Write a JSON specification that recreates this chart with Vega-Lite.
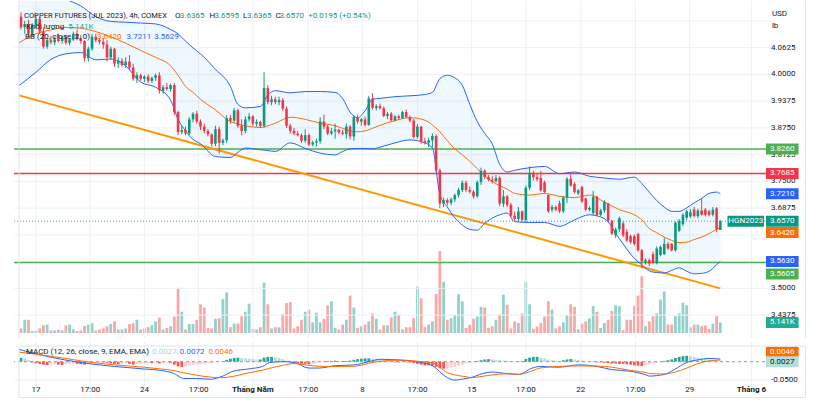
{
"$schema":"https://vega.github.io/schema/vega-lite/v6.json",
"padding":{"left":13,"top":0,"right":0,"bottom":0},
"background":"white",
"spacing":1,
"config":{"view":{"stroke":null},"font":"Roboto","axis":{"disable":true}},
"datasets":{
"candles":[
{"i":0,"o":4.135,"h":4.145,"l":4.105,"c":4.11,"v":2220,"d":0.01},
{"i":1,"o":4.11,"h":4.125,"l":4.095,"c":4.118,"v":6480,"d":0.008},
{"i":2,"o":4.118,"h":4.128,"l":4.09,"c":4.095,"v":6480,"d":0.005},
{"i":3,"o":4.095,"h":4.12,"l":4.09,"c":4.115,"v":950,"d":-0.002},
{"i":4,"o":4.115,"h":4.14,"l":4.108,"c":4.13,"v":1280,"d":-0.004},
{"i":5,"o":4.13,"h":4.135,"l":4.095,"c":4.1,"v":2220,"d":-0.006},
{"i":6,"o":4.1,"h":4.11,"l":4.06,"c":4.065,"v":3780,"d":-0.008},
{"i":7,"o":4.065,"h":4.085,"l":4.06,"c":4.08,"v":4120,"d":-0.009},
{"i":8,"o":4.08,"h":4.09,"l":4.07,"c":4.075,"v":1280,"d":-0.008},
{"i":9,"o":4.075,"h":4.088,"l":4.068,"c":4.082,"v":1280,"d":-0.007},
{"i":10,"o":4.082,"h":4.095,"l":4.075,"c":4.078,"v":1560,"d":-0.008},
{"i":11,"o":4.078,"h":4.09,"l":4.072,"c":4.086,"v":1280,"d":-0.009},
{"i":12,"o":4.086,"h":4.092,"l":4.07,"c":4.074,"v":3780,"d":-0.007},
{"i":13,"o":4.074,"h":4.085,"l":4.068,"c":4.082,"v":4120,"d":-0.006},
{"i":14,"o":4.082,"h":4.1,"l":4.078,"c":4.095,"v":1750,"d":-0.005},
{"i":15,"o":4.095,"h":4.105,"l":4.08,"c":4.084,"v":950,"d":-0.006},
{"i":16,"o":4.084,"h":4.092,"l":4.072,"c":4.078,"v":1280,"d":-0.007},
{"i":17,"o":4.078,"h":4.08,"l":4.03,"c":4.038,"v":3450,"d":-0.008},
{"i":18,"o":4.038,"h":4.065,"l":4.03,"c":4.06,"v":4120,"d":-0.006},
{"i":19,"o":4.06,"h":4.095,"l":4.055,"c":4.088,"v":4730,"d":-0.004},
{"i":20,"o":4.088,"h":4.095,"l":4.075,"c":4.08,"v":1280,"d":-0.003},
{"i":21,"o":4.08,"h":4.085,"l":4.07,"c":4.076,"v":1750,"d":-0.002},
{"i":22,"o":4.076,"h":4.085,"l":4.06,"c":4.07,"v":2220,"d":-0.002},
{"i":23,"o":4.07,"h":4.08,"l":4.03,"c":4.04,"v":3310,"d":-0.003},
{"i":24,"o":4.04,"h":4.065,"l":4.035,"c":4.06,"v":4400,"d":-0.005},
{"i":25,"o":4.06,"h":4.062,"l":4.018,"c":4.025,"v":5680,"d":-0.006},
{"i":26,"o":4.025,"h":4.04,"l":4.015,"c":4.032,"v":1750,"d":-0.007},
{"i":27,"o":4.032,"h":4.038,"l":4.018,"c":4.022,"v":1750,"d":-0.006},
{"i":28,"o":4.022,"h":4.04,"l":4.015,"c":4.03,"v":2220,"d":-0.005},
{"i":29,"o":4.03,"h":4.045,"l":4.01,"c":4.016,"v":4400,"d":-0.006},
{"i":30,"o":4.016,"h":4.025,"l":3.985,"c":3.99,"v":4870,"d":-0.008},
{"i":31,"o":3.99,"h":4.005,"l":3.98,"c":3.998,"v":6480,"d":-0.007},
{"i":32,"o":3.998,"h":4.002,"l":3.985,"c":3.99,"v":1750,"d":-0.006},
{"i":33,"o":3.99,"h":3.998,"l":3.982,"c":3.995,"v":2220,"d":-0.005},
{"i":34,"o":3.995,"h":4.0,"l":3.98,"c":3.985,"v":2840,"d":-0.004},
{"i":35,"o":3.985,"h":3.995,"l":3.98,"c":3.992,"v":3780,"d":-0.004},
{"i":36,"o":3.992,"h":4.002,"l":3.985,"c":3.998,"v":5680,"d":-0.003},
{"i":37,"o":3.998,"h":4.005,"l":3.955,"c":3.962,"v":7570,"d":-0.005},
{"i":38,"o":3.962,"h":3.975,"l":3.955,"c":3.97,"v":1750,"d":-0.004},
{"i":39,"o":3.97,"h":3.98,"l":3.962,"c":3.966,"v":2510,"d":-0.003},
{"i":40,"o":3.966,"h":3.978,"l":3.96,"c":3.975,"v":3310,"d":-0.003},
{"i":41,"o":3.975,"h":3.98,"l":3.905,"c":3.912,"v":8040,"d":-0.008},
{"i":42,"o":3.912,"h":3.915,"l":3.858,"c":3.865,"v":22090,"d":-0.013},
{"i":43,"o":3.865,"h":3.88,"l":3.86,"c":3.87,"v":10410,"d":-0.014},
{"i":44,"o":3.87,"h":3.878,"l":3.858,"c":3.862,"v":1750,"d":-0.013},
{"i":45,"o":3.862,"h":3.9,"l":3.858,"c":3.895,"v":4400,"d":-0.011},
{"i":46,"o":3.895,"h":3.912,"l":3.888,"c":3.908,"v":4400,"d":-0.009},
{"i":47,"o":3.908,"h":3.915,"l":3.885,"c":3.89,"v":6480,"d":-0.008},
{"i":48,"o":3.89,"h":3.895,"l":3.87,"c":3.878,"v":14050,"d":-0.007},
{"i":49,"o":3.878,"h":3.885,"l":3.862,"c":3.868,"v":12440,"d":-0.006},
{"i":50,"o":3.868,"h":3.872,"l":3.855,"c":3.86,"v":2510,"d":-0.005},
{"i":51,"o":3.86,"h":3.862,"l":3.832,"c":3.838,"v":2220,"d":-0.004},
{"i":52,"o":3.838,"h":3.88,"l":3.832,"c":3.872,"v":6950,"d":-0.002},
{"i":53,"o":3.872,"h":3.878,"l":3.815,"c":3.84,"v":7240,"d":-0.001},
{"i":54,"o":3.84,"h":3.85,"l":3.835,"c":3.846,"v":16700,"d":0.001},
{"i":55,"o":3.846,"h":3.905,"l":3.84,"c":3.898,"v":19870,"d":0.005},
{"i":56,"o":3.898,"h":3.905,"l":3.885,"c":3.892,"v":2840,"d":0.008},
{"i":57,"o":3.892,"h":3.922,"l":3.888,"c":3.916,"v":4590,"d":0.01},
{"i":58,"o":3.916,"h":3.92,"l":3.875,"c":3.88,"v":4590,"d":0.011},
{"i":59,"o":3.88,"h":3.895,"l":3.858,"c":3.868,"v":8180,"d":0.01},
{"i":60,"o":3.868,"h":3.902,"l":3.862,"c":3.895,"v":10410,"d":0.009},
{"i":61,"o":3.895,"h":3.91,"l":3.89,"c":3.902,"v":14330,"d":0.008},
{"i":62,"o":3.902,"h":3.905,"l":3.88,"c":3.885,"v":2030,"d":0.007},
{"i":63,"o":3.885,"h":3.895,"l":3.878,"c":3.889,"v":1750,"d":0.006},
{"i":64,"o":3.889,"h":3.892,"l":3.875,"c":3.88,"v":2840,"d":0.006},
{"i":65,"o":3.88,"h":4.005,"l":3.875,"c":3.968,"v":24600,"d":0.011},
{"i":66,"o":3.968,"h":3.975,"l":3.93,"c":3.935,"v":14050,"d":0.013},
{"i":67,"o":3.935,"h":3.95,"l":3.928,"c":3.942,"v":2220,"d":0.013},
{"i":68,"o":3.942,"h":3.948,"l":3.93,"c":3.935,"v":2840,"d":0.012},
{"i":69,"o":3.935,"h":3.948,"l":3.928,"c":3.94,"v":2840,"d":0.01},
{"i":70,"o":3.94,"h":3.945,"l":3.915,"c":3.92,"v":9130,"d":0.007},
{"i":71,"o":3.92,"h":3.925,"l":3.875,"c":3.88,"v":14660,"d":0.003},
{"i":72,"o":3.88,"h":3.885,"l":3.862,"c":3.868,"v":15140,"d":0.001},
{"i":73,"o":3.868,"h":3.875,"l":3.858,"c":3.862,"v":2220,"d":-0.002},
{"i":74,"o":3.862,"h":3.868,"l":3.855,"c":3.858,"v":3310,"d":-0.004},
{"i":75,"o":3.858,"h":3.862,"l":3.84,"c":3.845,"v":6480,"d":-0.006},
{"i":76,"o":3.845,"h":3.872,"l":3.84,"c":3.858,"v":10410,"d":-0.006},
{"i":77,"o":3.858,"h":3.862,"l":3.832,"c":3.836,"v":11490,"d":-0.007},
{"i":78,"o":3.836,"h":3.845,"l":3.832,"c":3.841,"v":5200,"d":-0.006},
{"i":79,"o":3.841,"h":3.85,"l":3.832,"c":3.844,"v":9930,"d":-0.004},
{"i":80,"o":3.844,"h":3.9,"l":3.838,"c":3.89,"v":5200,"d":-0.001},
{"i":81,"o":3.89,"h":3.906,"l":3.872,"c":3.878,"v":6950,"d":0.001},
{"i":82,"o":3.878,"h":3.882,"l":3.858,"c":3.862,"v":13580,"d":0.002},
{"i":83,"o":3.862,"h":3.875,"l":3.858,"c":3.867,"v":15470,"d":0.002},
{"i":84,"o":3.867,"h":3.885,"l":3.85,"c":3.871,"v":2510,"d":0.003},
{"i":85,"o":3.871,"h":3.873,"l":3.86,"c":3.864,"v":1750,"d":0.002},
{"i":86,"o":3.864,"h":3.87,"l":3.858,"c":3.861,"v":4120,"d":0.002},
{"i":87,"o":3.861,"h":3.885,"l":3.85,"c":3.878,"v":6480,"d":0.002},
{"i":88,"o":3.878,"h":3.882,"l":3.848,"c":3.855,"v":18310,"d":0.003},
{"i":89,"o":3.855,"h":3.905,"l":3.845,"c":3.9,"v":12440,"d":0.005},
{"i":90,"o":3.9,"h":3.905,"l":3.885,"c":3.89,"v":2510,"d":0.007},
{"i":91,"o":3.89,"h":3.898,"l":3.88,"c":3.895,"v":3310,"d":0.008},
{"i":92,"o":3.895,"h":3.902,"l":3.878,"c":3.882,"v":4120,"d":0.009},
{"i":93,"o":3.882,"h":3.95,"l":3.88,"c":3.944,"v":5680,"d":0.009},
{"i":94,"o":3.944,"h":3.956,"l":3.918,"c":3.922,"v":9600,"d":0.008},
{"i":95,"o":3.922,"h":3.93,"l":3.916,"c":3.926,"v":6950,"d":0.006},
{"i":96,"o":3.926,"h":3.932,"l":3.918,"c":3.921,"v":1750,"d":0.004},
{"i":97,"o":3.921,"h":3.925,"l":3.9,"c":3.903,"v":3780,"d":0.003},
{"i":98,"o":3.903,"h":3.912,"l":3.896,"c":3.908,"v":3780,"d":0.002},
{"i":99,"o":3.908,"h":3.912,"l":3.89,"c":3.893,"v":7570,"d":-0.001},
{"i":100,"o":3.893,"h":3.905,"l":3.89,"c":3.902,"v":10410,"d":-0.002},
{"i":101,"o":3.902,"h":3.906,"l":3.894,"c":3.898,"v":8850,"d":-0.002},
{"i":102,"o":3.898,"h":3.915,"l":3.896,"c":3.912,"v":1750,"d":-0.001},
{"i":103,"o":3.912,"h":3.918,"l":3.898,"c":3.9,"v":2840,"d":-0.002},
{"i":104,"o":3.9,"h":3.904,"l":3.888,"c":3.892,"v":2840,"d":-0.002},
{"i":105,"o":3.892,"h":3.896,"l":3.85,"c":3.854,"v":7240,"d":-0.004},
{"i":106,"o":3.854,"h":3.884,"l":3.85,"c":3.878,"v":22700,"d":-0.006},
{"i":107,"o":3.878,"h":3.88,"l":3.838,"c":3.844,"v":17030,"d":-0.008},
{"i":108,"o":3.844,"h":3.852,"l":3.836,"c":3.84,"v":2840,"d":-0.01},
{"i":109,"o":3.84,"h":3.852,"l":3.83,"c":3.846,"v":4120,"d":-0.01},
{"i":110,"o":3.846,"h":3.862,"l":3.83,"c":3.856,"v":5680,"d":-0.011},
{"i":111,"o":3.856,"h":3.86,"l":3.772,"c":3.776,"v":19060,"d":-0.014},
{"i":112,"o":3.776,"h":3.78,"l":3.688,"c":3.698,"v":40060,"d":-0.018},
{"i":113,"o":3.698,"h":3.712,"l":3.69,"c":3.706,"v":25070,"d":-0.019},
{"i":114,"o":3.706,"h":3.71,"l":3.694,"c":3.7,"v":6480,"d":-0.018},
{"i":115,"o":3.7,"h":3.712,"l":3.695,"c":3.708,"v":7240,"d":-0.016},
{"i":116,"o":3.708,"h":3.722,"l":3.702,"c":3.718,"v":8850,"d":-0.014},
{"i":117,"o":3.718,"h":3.735,"l":3.712,"c":3.73,"v":19060,"d":-0.011},
{"i":118,"o":3.73,"h":3.752,"l":3.725,"c":3.747,"v":15470,"d":-0.008},
{"i":119,"o":3.747,"h":3.752,"l":3.725,"c":3.73,"v":2510,"d":-0.005},
{"i":120,"o":3.73,"h":3.738,"l":3.722,"c":3.726,"v":4120,"d":-0.003},
{"i":121,"o":3.726,"h":3.73,"l":3.71,"c":3.715,"v":6950,"d":-0.001},
{"i":122,"o":3.715,"h":3.752,"l":3.712,"c":3.748,"v":8040,"d":0.002},
{"i":123,"o":3.748,"h":3.782,"l":3.742,"c":3.775,"v":12770,"d":0.004},
{"i":124,"o":3.775,"h":3.778,"l":3.755,"c":3.76,"v":12440,"d":0.006},
{"i":125,"o":3.76,"h":3.765,"l":3.75,"c":3.754,"v":2510,"d":0.007},
{"i":126,"o":3.754,"h":3.762,"l":3.745,"c":3.75,"v":3310,"d":0.006},
{"i":127,"o":3.75,"h":3.765,"l":3.748,"c":3.758,"v":6480,"d":0.005},
{"i":128,"o":3.758,"h":3.762,"l":3.692,"c":3.698,"v":9130,"d":0.004},
{"i":129,"o":3.698,"h":3.73,"l":3.69,"c":3.715,"v":18780,"d":0.003},
{"i":130,"o":3.715,"h":3.718,"l":3.69,"c":3.695,"v":13860,"d":0.002},
{"i":131,"o":3.695,"h":3.7,"l":3.665,"c":3.67,"v":2220,"d":0.001},
{"i":132,"o":3.67,"h":3.68,"l":3.658,"c":3.662,"v":5680,"d":0.0005},
{"i":133,"o":3.662,"h":3.69,"l":3.655,"c":3.68,"v":4870,"d":0.001},
{"i":134,"o":3.68,"h":3.682,"l":3.655,"c":3.66,"v":9600,"d":0.002},
{"i":135,"o":3.66,"h":3.74,"l":3.655,"c":3.735,"v":25070,"d":0.007},
{"i":136,"o":3.735,"h":3.785,"l":3.73,"c":3.77,"v":14050,"d":0.011},
{"i":137,"o":3.77,"h":3.775,"l":3.752,"c":3.76,"v":2030,"d":0.013},
{"i":138,"o":3.76,"h":3.768,"l":3.75,"c":3.755,"v":3170,"d":0.013},
{"i":139,"o":3.758,"h":3.775,"l":3.726,"c":3.729,"v":4870,"d":0.011},
{"i":140,"o":3.748,"h":3.752,"l":3.722,"c":3.725,"v":8040,"d":0.009},
{"i":141,"o":3.718,"h":3.72,"l":3.676,"c":3.68,"v":15610,"d":0.006},
{"i":142,"o":3.684,"h":3.695,"l":3.678,"c":3.69,"v":11490,"d":0.004},
{"i":143,"o":3.69,"h":3.694,"l":3.68,"c":3.684,"v":2220,"d":0.003},
{"i":144,"o":3.699,"h":3.705,"l":3.676,"c":3.68,"v":3310,"d":0.002},
{"i":145,"o":3.68,"h":3.716,"l":3.676,"c":3.712,"v":5200,"d":0.004},
{"i":146,"o":3.712,"h":3.76,"l":3.7,"c":3.756,"v":8850,"d":0.006},
{"i":147,"o":3.756,"h":3.771,"l":3.738,"c":3.74,"v":14050,"d":0.007},
{"i":148,"o":3.744,"h":3.748,"l":3.722,"c":3.725,"v":12770,"d":0.006},
{"i":149,"o":3.722,"h":3.732,"l":3.718,"c":3.729,"v":1750,"d":0.005},
{"i":150,"o":3.737,"h":3.74,"l":3.7,"c":3.703,"v":4590,"d":0.003},
{"i":151,"o":3.71,"h":3.712,"l":3.68,"c":3.684,"v":5680,"d":0.001},
{"i":152,"o":3.684,"h":3.692,"l":3.68,"c":3.688,"v":7240,"d":0.0005},
{"i":153,"o":3.676,"h":3.728,"l":3.67,"c":3.714,"v":13240,"d":-0.001},
{"i":154,"o":3.714,"h":3.716,"l":3.668,"c":3.672,"v":10410,"d":-0.002},
{"i":155,"o":3.672,"h":3.686,"l":3.668,"c":3.682,"v":2510,"d":-0.002},
{"i":156,"o":3.682,"h":3.706,"l":3.676,"c":3.702,"v":4870,"d":-0.003},
{"i":157,"o":3.698,"h":3.7,"l":3.655,"c":3.658,"v":6480,"d":-0.004},
{"i":158,"o":3.658,"h":3.66,"l":3.624,"c":3.628,"v":10740,"d":-0.005},
{"i":159,"o":3.624,"h":3.642,"l":3.618,"c":3.638,"v":13580,"d":-0.005},
{"i":160,"o":3.638,"h":3.668,"l":3.632,"c":3.664,"v":13100,"d":-0.006},
{"i":161,"o":3.652,"h":3.656,"l":3.62,"c":3.624,"v":1420,"d":-0.006},
{"i":162,"o":3.632,"h":3.638,"l":3.608,"c":3.612,"v":6480,"d":-0.007},
{"i":163,"o":3.622,"h":3.626,"l":3.604,"c":3.608,"v":6480,"d":-0.008},
{"i":164,"o":3.622,"h":3.626,"l":3.6,"c":3.604,"v":13240,"d":-0.01},
{"i":165,"o":3.627,"h":3.63,"l":3.586,"c":3.589,"v":18310,"d":-0.011},
{"i":166,"o":3.589,"h":3.592,"l":3.547,"c":3.563,"v":27770,"d":-0.012},
{"i":167,"o":3.562,"h":3.57,"l":3.556,"c":3.566,"v":3310,"d":-0.01},
{"i":168,"o":3.566,"h":3.57,"l":3.552,"c":3.558,"v":5680,"d":-0.008},
{"i":169,"o":3.58,"h":3.586,"l":3.556,"c":3.56,"v":8180,"d":-0.005},
{"i":170,"o":3.559,"h":3.598,"l":3.556,"c":3.593,"v":9600,"d":-0.003},
{"i":171,"o":3.578,"h":3.6,"l":3.575,"c":3.597,"v":16410,"d":-0.001},
{"i":172,"o":3.58,"h":3.619,"l":3.578,"c":3.604,"v":20340,"d":0.002},
{"i":173,"o":3.604,"h":3.608,"l":3.59,"c":3.593,"v":4120,"d":0.004},
{"i":174,"o":3.604,"h":3.606,"l":3.586,"c":3.589,"v":4120,"d":0.006},
{"i":175,"o":3.589,"h":3.656,"l":3.586,"c":3.6535,"v":8180,"d":0.01},
{"i":176,"o":3.6345,"h":3.662,"l":3.632,"c":3.657,"v":9600,"d":0.013},
{"i":177,"o":3.65,"h":3.675,"l":3.646,"c":3.672,"v":14800,"d":0.015},
{"i":178,"o":3.665,"h":3.684,"l":3.66,"c":3.68,"v":13580,"d":0.016},
{"i":179,"o":3.668,"h":3.685,"l":3.665,"c":3.678,"v":2840,"d":0.015},
{"i":180,"o":3.684,"h":3.69,"l":3.666,"c":3.669,"v":4120,"d":0.013},
{"i":181,"o":3.669,"h":3.686,"l":3.664,"c":3.682,"v":4120,"d":0.011},
{"i":182,"o":3.682,"h":3.71,"l":3.67,"c":3.672,"v":3310,"d":0.009},
{"i":183,"o":3.684,"h":3.688,"l":3.668,"c":3.672,"v":3640,"d":0.008},
{"i":184,"o":3.68,"h":3.684,"l":3.668,"c":3.672,"v":2030,"d":0.006},
{"i":185,"o":3.672,"h":3.69,"l":3.668,"c":3.684,"v":4590,"d":0.005},
{"i":186,"o":3.687,"h":3.69,"l":3.632,"c":3.638,"v":8180,"d":0.004},
{"i":187,"o":3.6365,"h":3.6595,"l":3.6365,"c":3.657,"v":5141,"d":0.0027}
],
"bb":[
{"i":-0.5,"up":4.19,"mid":4.074,"lo":3.974},
{"i":4,"up":4.19,"mid":4.095,"lo":4.005},
{"i":8,"up":4.185,"mid":4.104,"lo":4.035},
{"i":12,"up":4.175,"mid":4.11,"lo":4.048},
{"i":16,"up":4.16,"mid":4.108,"lo":4.051},
{"i":20,"up":4.135,"mid":4.1,"lo":4.034},
{"i":24,"up":4.124,"mid":4.088,"lo":4.036},
{"i":28,"up":4.122,"mid":4.073,"lo":4.02},
{"i":32,"up":4.12,"mid":4.056,"lo":3.982},
{"i":36,"up":4.118,"mid":4.04,"lo":3.97},
{"i":40,"up":4.105,"mid":4.02,"lo":3.94},
{"i":42,"up":4.095,"mid":3.998,"lo":3.895},
{"i":44,"up":4.078,"mid":3.972,"lo":3.868},
{"i":46,"up":4.062,"mid":3.958,"lo":3.848},
{"i":48,"up":4.048,"mid":3.942,"lo":3.838},
{"i":52,"up":4.012,"mid":3.917,"lo":3.808},
{"i":56,"up":3.972,"mid":3.89,"lo":3.806},
{"i":58,"up":3.93,"mid":3.884,"lo":3.818},
{"i":60,"up":3.922,"mid":3.88,"lo":3.828},
{"i":64,"up":3.925,"mid":3.876,"lo":3.824},
{"i":66,"up":3.952,"mid":3.88,"lo":3.822},
{"i":68,"up":3.962,"mid":3.886,"lo":3.82},
{"i":72,"up":3.957,"mid":3.9,"lo":3.84},
{"i":76,"up":3.96,"mid":3.895,"lo":3.827},
{"i":80,"up":3.96,"mid":3.886,"lo":3.816},
{"i":84,"up":3.958,"mid":3.88,"lo":3.812},
{"i":86,"up":3.944,"mid":3.874,"lo":3.82},
{"i":88,"up":3.912,"mid":3.868,"lo":3.826},
{"i":90,"up":3.899,"mid":3.866,"lo":3.827},
{"i":92,"up":3.915,"mid":3.868,"lo":3.827},
{"i":94,"up":3.942,"mid":3.874,"lo":3.826},
{"i":96,"up":3.944,"mid":3.881,"lo":3.83},
{"i":100,"up":3.948,"mid":3.892,"lo":3.84},
{"i":104,"up":3.95,"mid":3.899,"lo":3.847},
{"i":108,"up":3.953,"mid":3.893,"lo":3.84},
{"i":110,"up":3.958,"mid":3.882,"lo":3.828},
{"i":112,"up":3.99,"mid":3.866,"lo":3.72},
{"i":114,"up":3.998,"mid":3.845,"lo":3.69},
{"i":116,"up":3.992,"mid":3.826,"lo":3.665},
{"i":118,"up":3.975,"mid":3.812,"lo":3.648},
{"i":120,"up":3.93,"mid":3.797,"lo":3.638},
{"i":122,"up":3.89,"mid":3.78,"lo":3.636},
{"i":124,"up":3.862,"mid":3.763,"lo":3.652},
{"i":126,"up":3.838,"mid":3.75,"lo":3.664},
{"i":128,"up":3.79,"mid":3.74,"lo":3.672},
{"i":130,"up":3.772,"mid":3.732,"lo":3.676},
{"i":132,"up":3.776,"mid":3.722,"lo":3.656},
{"i":136,"up":3.782,"mid":3.718,"lo":3.654},
{"i":140,"up":3.785,"mid":3.722,"lo":3.654},
{"i":144,"up":3.768,"mid":3.715,"lo":3.645},
{"i":148,"up":3.772,"mid":3.712,"lo":3.66},
{"i":152,"up":3.762,"mid":3.718,"lo":3.672},
{"i":156,"up":3.758,"mid":3.702,"lo":3.663},
{"i":160,"up":3.755,"mid":3.684,"lo":3.616},
{"i":164,"up":3.76,"mid":3.672,"lo":3.57},
{"i":166,"up":3.745,"mid":3.66,"lo":3.555},
{"i":168,"up":3.725,"mid":3.64,"lo":3.541},
{"i":170,"up":3.705,"mid":3.63,"lo":3.537},
{"i":172,"up":3.69,"mid":3.62,"lo":3.536},
{"i":174,"up":3.68,"mid":3.612,"lo":3.542},
{"i":176,"up":3.68,"mid":3.607,"lo":3.548},
{"i":178,"up":3.688,"mid":3.608,"lo":3.54},
{"i":180,"up":3.7,"mid":3.614,"lo":3.534},
{"i":182,"up":3.71,"mid":3.62,"lo":3.535},
{"i":184,"up":3.722,"mid":3.628,"lo":3.54},
{"i":186,"up":3.725,"mid":3.638,"lo":3.555},
{"i":187,"up":3.721,"mid":3.642,"lo":3.563}
],
"macd":[
{"i":-0.5,"m":0.0333,"s":0.0261},
{"i":4.7,"m":0.0196,"s":0.0196},
{"i":12,"m":0.0043,"s":0.0087},
{"i":19,"m":-0.0065,"s":-0.0022},
{"i":25,"m":-0.013,"s":-0.0085},
{"i":33,"m":-0.02,"s":-0.0152},
{"i":37.5,"m":-0.0239,"s":-0.02},
{"i":41,"m":-0.0326,"s":-0.0245},
{"i":43.5,"m":-0.0457,"s":-0.03},
{"i":47,"m":-0.0457,"s":-0.037},
{"i":50.7,"m":-0.0478,"s":-0.042},
{"i":54,"m":-0.0391,"s":-0.0435},
{"i":56.7,"m":-0.0261,"s":-0.04},
{"i":61,"m":-0.0196,"s":-0.03},
{"i":64.6,"m":-0.013,"s":-0.023},
{"i":66.5,"m":-0.0022,"s":-0.018},
{"i":70,"m":0.0,"s":-0.01},
{"i":73,"m":-0.0022,"s":-0.005},
{"i":77,"m":-0.0174,"s":-0.01},
{"i":79.7,"m":-0.0174,"s":-0.0125},
{"i":84,"m":-0.0109,"s":-0.013},
{"i":89,"m":-0.009,"s":-0.0125},
{"i":93,"m":0.0,"s":-0.0045},
{"i":96,"m":0.0065,"s":0.001},
{"i":101.6,"m":0.0043,"s":0.0043},
{"i":107,"m":-0.0022,"s":0.0},
{"i":110,"m":-0.0109,"s":-0.003},
{"i":114,"m":-0.0435,"s":-0.03},
{"i":116,"m":-0.05,"s":-0.036},
{"i":119,"m":-0.0457,"s":-0.041},
{"i":120.5,"m":-0.043,"s":-0.0435},
{"i":122.7,"m":-0.0348,"s":-0.041},
{"i":126,"m":-0.0283,"s":-0.036},
{"i":130,"m":-0.0326,"s":-0.033},
{"i":133,"m":-0.0348,"s":-0.0345},
{"i":136.7,"m":-0.0174,"s":-0.025},
{"i":139,"m":-0.013,"s":-0.017},
{"i":143.8,"m":-0.0152,"s":-0.013},
{"i":149,"m":-0.0087,"s":-0.0115},
{"i":154,"m":-0.013,"s":-0.012},
{"i":158,"m":-0.0217,"s":-0.015},
{"i":163,"m":-0.0261,"s":-0.0239},
{"i":166.8,"m":-0.0348,"s":-0.029},
{"i":168,"m":-0.0391,"s":-0.032},
{"i":172,"m":-0.0348,"s":-0.0335},
{"i":174.7,"m":-0.0217,"s":-0.029},
{"i":178,"m":-0.0022,"s":-0.0174},
{"i":180.7,"m":0.0043,"s":-0.0065},
{"i":184,"m":0.0087,"s":0.0022},
{"i":187,"m":0.0072,"s":0.0046}
],
"trend":[{"i":-0.53,"p":3.951},{"i":187,"p":3.5}],
"lbl":[
{"p":3.826,"t":"3.8260","k":"g"},
{"p":3.7685,"t":"3.7685","k":"r"},
{"p":3.721,"t":"3.7210","k":"b"},
{"p":3.657,"t":"3.6570","k":"t"},
{"p":3.563,"t":"3.5630","k":"b"}
],
"pt":[{"p":3.4375},{"p":3.5},{"p":3.5625},{"p":3.625},{"p":3.6875},{"p":3.75},{"p":3.8125},{"p":3.875},{"p":3.9375},{"p":4.0},{"p":4.0625},{"p":4.125}],
"ptl":[{"p":3.4375},{"p":3.5},{"p":3.6875},{"p":3.75},{"p":3.8125},{"p":3.875},{"p":3.9375},{"p":4.0},{"p":4.0625}],
"xt":[{"i":4,"t":"17"},{"i":18.5,"t":"17:00"},{"i":33,"t":"24"},{"i":47.5,"t":"17:00"},{"i":76.8,"t":"17:00"},{"i":91.3,"t":"8"},{"i":106,"t":"17:00"},{"i":120.5,"t":"15"},{"i":135,"t":"17:00"},{"i":149.7,"t":"22"},{"i":164.3,"t":"17:00"},{"i":178.8,"t":"29"}],
"xm":[{"i":62,"t":"Tháng Năm"},{"i":195.3,"t":"Tháng 6"}]
},
"vconcat":[
{
"width":757,"height":337,
"resolve":{"scale":{"y":"independent"}},
"layer":[
{"layer":[
{"data":{"name":"candles"},"mark":{"type":"bar","width":2.8,"clip":true},
 "encoding":{"x":{"field":"i","type":"quantitative","scale":{"domain":[-0.53,199.21],"nice":false,"zero":false},"axis":null},
 "y":{"field":"v","type":"quantitative","scale":{"domain":[0,160000],"nice":false},"axis":null},
 "color":{"condition":{"test":"datum.c >= datum.o","value":"#92d2cc"},"value":"#f7a9a7"}}},
{"data":{"values":[{}]},"mark":{"type":"bar","height":11,"color":"#22ab94"},
 "encoding":{"x":{"datum":199.21,"type":"quantitative","axis":null},"x2":{"datum":207.92},"y":{"datum":5141,"type":"quantitative","axis":null}}},
{"data":{"values":[{}]},"mark":{"type":"text","text":"5.141K","color":"white","fontSize":8,"align":"center","baseline":"middle"},
 "encoding":{"x":{"datum":203.56,"type":"quantitative","axis":null},"y":{"datum":5141,"type":"quantitative","axis":null}}}
]},
{"layer":[
{"data":{"name":"pt"},"mark":{"type":"rule","color":"#eef0f5","strokeWidth":1},
 "encoding":{"y":{"field":"p","type":"quantitative","scale":{"domain":[3.3957,4.1599],"nice":false,"zero":false},"axis":null}}},
{"data":{"name":"xt"},"mark":{"type":"rule","color":"#eef0f5","strokeWidth":1},
 "encoding":{"x":{"field":"i","type":"quantitative","scale":{"domain":[-0.53,199.21],"nice":false,"zero":false},"axis":null}}},
{"data":{"name":"xm"},"mark":{"type":"rule","color":"#eef0f5","strokeWidth":1},
 "encoding":{"x":{"field":"i","type":"quantitative","axis":null}}},
{"data":{"name":"bb"},"mark":{"type":"area","color":"#2196f3","opacity":0.07,"clip":true,"interpolate":"monotone"},
 "encoding":{"x":{"field":"i","type":"quantitative","axis":null},"y":{"field":"lo","type":"quantitative","axis":null},"y2":{"field":"up"}}},
{"data":{"values":[{}]},"mark":{"type":"rule","color":"#4caf50","strokeWidth":1.5},"encoding":{"y":{"datum":3.826,"type":"quantitative","axis":null}}},
{"data":{"values":[{}]},"mark":{"type":"rule","color":"#f23645","strokeWidth":1.5},"encoding":{"y":{"datum":3.7685,"type":"quantitative","axis":null}}},
{"data":{"values":[{}]},"mark":{"type":"rule","color":"#4caf50","strokeWidth":1.5},"encoding":{"y":{"datum":3.5605,"type":"quantitative","axis":null}}},
{"data":{"name":"trend"},"mark":{"type":"line","color":"#ff9800","strokeWidth":2,"clip":true},
 "encoding":{"x":{"field":"i","type":"quantitative","axis":null},"y":{"field":"p","type":"quantitative","axis":null}}},
{"data":{"name":"bb"},"mark":{"type":"line","color":"#2962ff","strokeWidth":1,"clip":true,"interpolate":"monotone"},
 "encoding":{"x":{"field":"i","type":"quantitative","axis":null},"y":{"field":"up","type":"quantitative","axis":null}}},
{"data":{"name":"bb"},"mark":{"type":"line","color":"#2962ff","strokeWidth":1,"clip":true,"interpolate":"monotone"},
 "encoding":{"x":{"field":"i","type":"quantitative","axis":null},"y":{"field":"lo","type":"quantitative","axis":null}}},
{"data":{"name":"bb"},"mark":{"type":"line","color":"#ff6d00","strokeWidth":1,"clip":true,"interpolate":"monotone"},
 "encoding":{"x":{"field":"i","type":"quantitative","axis":null},"y":{"field":"mid","type":"quantitative","axis":null}}},
{"data":{"name":"candles"},"mark":{"type":"rule","strokeWidth":1,"clip":true},
 "encoding":{"x":{"field":"i","type":"quantitative","axis":null},"y":{"field":"l","type":"quantitative","axis":null},"y2":{"field":"h"},
 "color":{"condition":{"test":"datum.c >= datum.o","value":"#089981"},"value":"#f23645"}}},
{"data":{"name":"candles"},"mark":{"type":"bar","width":2.6,"clip":true},
 "encoding":{"x":{"field":"i","type":"quantitative","axis":null},"y":{"field":"o","type":"quantitative","axis":null},"y2":{"field":"c"},
 "color":{"condition":{"test":"datum.c >= datum.o","value":"#089981"},"value":"#f23645"}}},
{"data":{"values":[{}]},"mark":{"type":"rule","color":"#089981","strokeWidth":1,"strokeDash":[1,2],"opacity":0.8},"encoding":{"y":{"datum":3.657,"type":"quantitative","axis":null}}},
{"data":{"name":"ptl"},"mark":{"type":"text","align":"left","baseline":"middle","fontSize":8,"color":"#131722"},
 "encoding":{"x":{"datum":200.53,"type":"quantitative","axis":null},"y":{"field":"p","type":"quantitative","axis":null},"text":{"field":"p","type":"quantitative","format":".4f"}}},
{"data":{"name":"lbl"},"mark":{"type":"bar","height":11},
 "encoding":{"x":{"datum":199.21,"type":"quantitative","axis":null},"x2":{"datum":207.92},"y":{"field":"p","type":"quantitative","axis":null},
 "color":{"field":"k","type":"nominal","scale":{"domain":["g","r","b","t"],"range":["#4caf50","#f23645","#2962ff","#089981"]},"legend":null}}},
{"data":{"name":"lbl"},"mark":{"type":"text","color":"white","fontSize":8,"align":"center","baseline":"middle"},
 "encoding":{"x":{"datum":203.56,"type":"quantitative","axis":null},"y":{"field":"p","type":"quantitative","axis":null},"text":{"field":"t"}}},
{"data":{"values":[{"p":3.642,"t":"3.6420"}]},"mark":{"type":"bar","height":11,"color":"#ff6d00","yOffset":5},
 "encoding":{"x":{"datum":199.21,"type":"quantitative","axis":null},"x2":{"datum":207.92},"y":{"field":"p","type":"quantitative","axis":null}}},
{"data":{"values":[{"p":3.642,"t":"3.6420"}]},"mark":{"type":"text","color":"white","fontSize":8,"align":"center","baseline":"middle","yOffset":5},
 "encoding":{"x":{"datum":203.56,"type":"quantitative","axis":null},"y":{"field":"p","type":"quantitative","axis":null},"text":{"field":"t"}}},
{"data":{"values":[{"p":3.5605,"t":"3.5605"}]},"mark":{"type":"bar","height":11,"color":"#4caf50","yOffset":11.5},
 "encoding":{"x":{"datum":199.21,"type":"quantitative","axis":null},"x2":{"datum":207.92},"y":{"field":"p","type":"quantitative","axis":null}}},
{"data":{"values":[{"p":3.5605,"t":"3.5605"}]},"mark":{"type":"text","color":"white","fontSize":8,"align":"center","baseline":"middle","yOffset":11.5},
 "encoding":{"x":{"datum":203.56,"type":"quantitative","axis":null},"y":{"field":"p","type":"quantitative","axis":null},"text":{"field":"t"}}},
{"data":{"values":[{"p":3.657}]},"mark":{"type":"bar","height":11,"color":"#089981"},
 "encoding":{"x":{"datum":188.92,"type":"quantitative","axis":null},"x2":{"datum":198.68},"y":{"field":"p","type":"quantitative","axis":null}}},
{"data":{"values":[{"p":3.657}]},"mark":{"type":"text","text":"HGN2023","color":"white","fontSize":8,"align":"center","baseline":"middle"},
 "encoding":{"x":{"datum":193.8,"type":"quantitative","axis":null},"y":{"field":"p","type":"quantitative","axis":null}}},
{"data":{"values":[{}]},"mark":{"type":"text","text":"COPPER FUTURES (JUL 2023), 4h, COMEX","align":"left","baseline":"middle","fontSize":7.6,"color":"#131722"},
 "encoding":{"x":{"datum":0.79,"type":"quantitative","axis":null},"y":{"datum":4.1372,"type":"quantitative","axis":null}}},
{"data":{"values":[{}]},"mark":{"type":"text","text":"O","align":"left","baseline":"middle","fontSize":8,"color":"#131722"},
 "encoding":{"x":{"datum":41.16,"type":"quantitative","axis":null},"y":{"datum":4.1372,"type":"quantitative","axis":null}}},
{"data":{"values":[{}]},"mark":{"type":"text","text":"3.6365","align":"left","baseline":"middle","fontSize":8,"color":"#089981"},
 "encoding":{"x":{"datum":42.48,"type":"quantitative","axis":null},"y":{"datum":4.1372,"type":"quantitative","axis":null}}},
{"data":{"values":[{}]},"mark":{"type":"text","text":"H","align":"left","baseline":"middle","fontSize":8,"color":"#131722"},
 "encoding":{"x":{"datum":50.4,"type":"quantitative","axis":null},"y":{"datum":4.1372,"type":"quantitative","axis":null}}},
{"data":{"values":[{}]},"mark":{"type":"text","text":"3.6595","align":"left","baseline":"middle","fontSize":8,"color":"#089981"},
 "encoding":{"x":{"datum":51.72,"type":"quantitative","axis":null},"y":{"datum":4.1372,"type":"quantitative","axis":null}}},
{"data":{"values":[{}]},"mark":{"type":"text","text":"L","align":"left","baseline":"middle","fontSize":8,"color":"#131722"},
 "encoding":{"x":{"datum":59.37,"type":"quantitative","axis":null},"y":{"datum":4.1372,"type":"quantitative","axis":null}}},
{"data":{"values":[{}]},"mark":{"type":"text","text":"3.6365","align":"left","baseline":"middle","fontSize":8,"color":"#089981"},
 "encoding":{"x":{"datum":60.42,"type":"quantitative","axis":null},"y":{"datum":4.1372,"type":"quantitative","axis":null}}},
{"data":{"values":[{}]},"mark":{"type":"text","text":"C","align":"left","baseline":"middle","fontSize":8,"color":"#131722"},
 "encoding":{"x":{"datum":68.07,"type":"quantitative","axis":null},"y":{"datum":4.1372,"type":"quantitative","axis":null}}},
{"data":{"values":[{}]},"mark":{"type":"text","text":"3.6570","align":"left","baseline":"middle","fontSize":8,"color":"#089981"},
 "encoding":{"x":{"datum":69.13,"type":"quantitative","axis":null},"y":{"datum":4.1372,"type":"quantitative","axis":null}}},
{"data":{"values":[{}]},"mark":{"type":"text","text":"+0.0195 (+0.54%)","align":"left","baseline":"middle","fontSize":8,"color":"#089981"},
 "encoding":{"x":{"datum":76.78,"type":"quantitative","axis":null},"y":{"datum":4.1372,"type":"quantitative","axis":null}}},
{"data":{"values":[{}]},"mark":{"type":"text","text":"Khối lượng","align":"left","baseline":"middle","fontSize":8,"color":"#131722"},
 "encoding":{"x":{"datum":1.32,"type":"quantitative","axis":null},"y":{"datum":4.1107,"type":"quantitative","axis":null}}},
{"data":{"values":[{}]},"mark":{"type":"text","text":"5.141K","align":"left","baseline":"middle","fontSize":8,"color":"#22ab94"},
 "encoding":{"x":{"datum":12.66,"type":"quantitative","axis":null},"y":{"datum":4.1107,"type":"quantitative","axis":null}}},
{"data":{"values":[{}]},"mark":{"type":"text","text":"BB (20, close, 2, 0)","align":"left","baseline":"middle","fontSize":8,"color":"#131722"},
 "encoding":{"x":{"datum":1.06,"type":"quantitative","axis":null},"y":{"datum":4.0873,"type":"quantitative","axis":null}}},
{"data":{"values":[{}]},"mark":{"type":"text","text":"3.6420","align":"left","baseline":"middle","fontSize":8,"color":"#ff6d00"},
 "encoding":{"x":{"datum":20.32,"type":"quantitative","axis":null},"y":{"datum":4.0873,"type":"quantitative","axis":null}}},
{"data":{"values":[{}]},"mark":{"type":"text","text":"3.7211","align":"left","baseline":"middle","fontSize":8,"color":"#2962ff"},
 "encoding":{"x":{"datum":28.23,"type":"quantitative","axis":null},"y":{"datum":4.0873,"type":"quantitative","axis":null}}},
{"data":{"values":[{}]},"mark":{"type":"text","text":"3.5629","align":"left","baseline":"middle","fontSize":8,"color":"#2962ff"},
 "encoding":{"x":{"datum":35.62,"type":"quantitative","axis":null},"y":{"datum":4.0873,"type":"quantitative","axis":null}}},
{"data":{"values":[{}]},"mark":{"type":"text","text":"USD","align":"left","baseline":"middle","fontSize":8,"color":"#131722"},
 "encoding":{"x":{"datum":200.79,"type":"quantitative","axis":null},"y":{"datum":4.1418,"type":"quantitative","axis":null}}},
{"data":{"values":[{}]},"mark":{"type":"text","text":"lb","align":"left","baseline":"middle","fontSize":8,"color":"#131722"},
 "encoding":{"x":{"datum":200.79,"type":"quantitative","axis":null},"y":{"datum":4.1123,"type":"quantitative","axis":null}}},
{"data":{"values":[{}]},"mark":{"type":"rule","color":"#e0e3eb","strokeWidth":1},"encoding":{"x":{"datum":-0.53,"type":"quantitative","axis":null}}},
{"data":{"values":[{}]},"mark":{"type":"rule","color":"#e0e3eb","strokeWidth":1},"encoding":{"x":{"datum":209.76,"type":"quantitative","axis":null}}}
]}
]
},
{
"width":757,"height":48,
"layer":[
{"data":{"name":"xt"},"mark":{"type":"rule","color":"#eef0f5","strokeWidth":1},
 "encoding":{"x":{"field":"i","type":"quantitative","scale":{"domain":[-0.53,199.21],"nice":false,"zero":false},"axis":null}}},
{"data":{"name":"xm"},"mark":{"type":"rule","color":"#eef0f5","strokeWidth":1},
 "encoding":{"x":{"field":"i","type":"quantitative","axis":null}}},
{"data":{"values":[{}]},"mark":{"type":"rule","color":"#eef0f5","strokeWidth":1},
 "encoding":{"y":{"datum":-0.05,"type":"quantitative","scale":{"domain":[-0.0608,0.0427],"nice":false,"zero":false},"axis":null}}},
{"data":{"name":"candles"},"transform":[{"window":[{"op":"lag","field":"d","as":"pd"}],"sort":[{"field":"i"}]}],
 "mark":{"type":"bar","width":2.8,"clip":true},
 "encoding":{"x":{"field":"i","type":"quantitative","axis":null},
 "y":{"field":"d","type":"quantitative","axis":null},
 "color":{"condition":[{"test":"datum.d >= 0 && datum.d >= datum.pd","value":"#26a69a"},{"test":"datum.d >= 0","value":"#b2dfdb"},{"test":"datum.d <= datum.pd","value":"#ff5252"}],"value":"#ffcdd2"}}},
{"data":{"values":[{}]},"mark":{"type":"rule","color":"#9598a1","strokeWidth":1,"strokeDash":[3,3]},"encoding":{"y":{"datum":0,"type":"quantitative","axis":null}}},
{"data":{"name":"macd"},"mark":{"type":"line","color":"#2962ff","strokeWidth":1,"clip":true,"interpolate":"monotone"},
 "encoding":{"x":{"field":"i","type":"quantitative","axis":null},"y":{"field":"m","type":"quantitative","axis":null}}},
{"data":{"name":"macd"},"mark":{"type":"line","color":"#ff6d00","strokeWidth":1,"clip":true,"interpolate":"monotone"},
 "encoding":{"x":{"field":"i","type":"quantitative","axis":null},"y":{"field":"s","type":"quantitative","axis":null}}},
{"data":{"values":[{}]},"mark":{"type":"text","text":"-0.0500","align":"left","baseline":"middle","fontSize":8,"color":"#131722"},
 "encoding":{"x":{"datum":200.53,"type":"quantitative","axis":null},"y":{"datum":-0.05,"type":"quantitative","axis":null}}},
{"data":{"values":[{}]},"mark":{"type":"bar","height":11,"color":"#ff6d00"},
 "encoding":{"x":{"datum":199.21,"type":"quantitative","axis":null},"x2":{"datum":207.92},"y":{"datum":0.0254,"type":"quantitative","axis":null}}},
{"data":{"values":[{}]},"mark":{"type":"text","text":"0.0046","color":"white","fontSize":8,"align":"center","baseline":"middle"},
 "encoding":{"x":{"datum":203.56,"type":"quantitative","axis":null},"y":{"datum":0.0254,"type":"quantitative","axis":null}}},
{"data":{"values":[{}]},"mark":{"type":"bar","height":11,"color":"#b2dfdb"},
 "encoding":{"x":{"datum":199.21,"type":"quantitative","axis":null},"x2":{"datum":207.92},"y":{"datum":-0.0004,"type":"quantitative","axis":null}}},
{"data":{"values":[{}]},"mark":{"type":"text","text":"0.0027","color":"#131722","fontSize":8,"align":"center","baseline":"middle"},
 "encoding":{"x":{"datum":203.56,"type":"quantitative","axis":null},"y":{"datum":-0.0004,"type":"quantitative","axis":null}}},
{"data":{"values":[{}]},"mark":{"type":"text","text":"MACD (12, 26, close, 9, EMA, EMA)","align":"left","baseline":"middle","fontSize":8,"color":"#131722"},
 "encoding":{"x":{"datum":1.32,"type":"quantitative","axis":null},"y":{"datum":0.0254,"type":"quantitative","axis":null}}},
{"data":{"values":[{}]},"mark":{"type":"text","text":"0.0027","align":"left","baseline":"middle","fontSize":8,"color":"#9fd8d2"},
 "encoding":{"x":{"datum":35.09,"type":"quantitative","axis":null},"y":{"datum":0.0254,"type":"quantitative","axis":null}}},
{"data":{"values":[{}]},"mark":{"type":"text","text":"0.0072","align":"left","baseline":"middle","fontSize":8,"color":"#2962ff"},
 "encoding":{"x":{"datum":42.48,"type":"quantitative","axis":null},"y":{"datum":0.0254,"type":"quantitative","axis":null}}},
{"data":{"values":[{}]},"mark":{"type":"text","text":"0.0046","align":"left","baseline":"middle","fontSize":8,"color":"#ff6d00"},
 "encoding":{"x":{"datum":50.13,"type":"quantitative","axis":null},"y":{"datum":0.0254,"type":"quantitative","axis":null}}},
{"data":{"name":"xt"},"mark":{"type":"text","align":"center","baseline":"middle","fontSize":8,"color":"#131722"},
 "encoding":{"x":{"field":"i","type":"quantitative","axis":null},"y":{"datum":-0.0759,"type":"quantitative","axis":null},"text":{"field":"t"}}},
{"data":{"name":"xm"},"mark":{"type":"text","align":"center","baseline":"middle","fontSize":8,"fontWeight":"bold","color":"#131722"},
 "encoding":{"x":{"field":"i","type":"quantitative","axis":null},"y":{"datum":-0.0759,"type":"quantitative","axis":null},"text":{"field":"t"}}},
{"data":{"values":[{}]},"mark":{"type":"rule","color":"#e0e3eb","strokeWidth":1},
 "encoding":{"x":{"datum":-0.53,"type":"quantitative","axis":null},"x2":{"datum":209.76},"y":{"datum":0.0427,"type":"quantitative","axis":null}}},
{"data":{"values":[{}]},"mark":{"type":"rule","color":"#e0e3eb","strokeWidth":1},
 "encoding":{"x":{"datum":-0.53,"type":"quantitative","axis":null},"x2":{"datum":209.76},"y":{"datum":-0.0974,"type":"quantitative","axis":null}}},
{"data":{"values":[{}]},"mark":{"type":"rule","color":"#e0e3eb","strokeWidth":1},
 "encoding":{"x":{"datum":-0.53,"type":"quantitative","axis":null},"y":{"datum":0.0427,"type":"quantitative","axis":null},"y2":{"datum":-0.0974}}},
{"data":{"values":[{}]},"mark":{"type":"rule","color":"#e0e3eb","strokeWidth":1},
 "encoding":{"x":{"datum":209.76,"type":"quantitative","axis":null},"y":{"datum":0.0427,"type":"quantitative","axis":null},"y2":{"datum":-0.0974}}}
]
}
]
}
